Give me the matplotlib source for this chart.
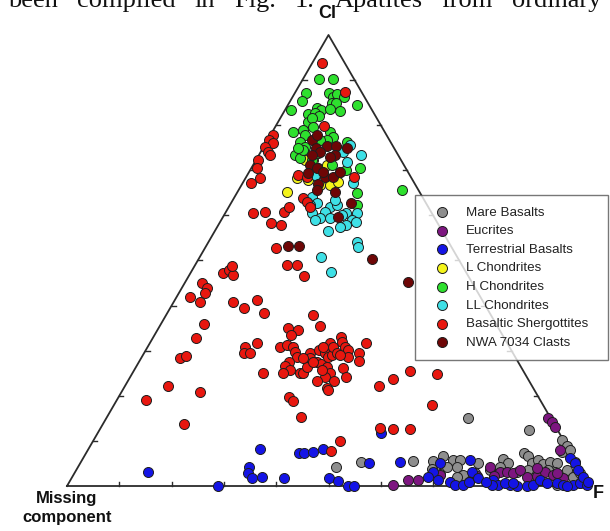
import numpy as np
import matplotlib.pyplot as plt

plt.rcParams['font.family'] = ['Liberation Sans', 'DejaVu Sans']

# apatite compositions: (Cl %, F %), missing component = 100 - Cl - F
mare_basalts = [(4.2, 49.3), (5.3, 53.6), (15.1, 69.1), (12.4, 82.1), (5.5, 63.4), (5.5, 67.2),
                (6.7, 68.6), (5.8, 70.9), (5.8, 72.2), (4.2, 72.5), (4.2, 70.6), (5.1, 76.0),
                (2.9, 76.6), (6.0, 80.4), (5.1, 81.8), (7.3, 83.7), (6.7, 84.8), (5.1, 86.4),
                (5.8, 87.2), (4.9, 88.6), (5.3, 89.7), (5.1, 91.2), (10.2, 89.5), (8.9, 91.2),
                (7.5, 90.9), (8.0, 92.2), (3.5, 93.8), (3.1, 91.8), (3.5, 86.4), (3.1, 84.5),
                (2.0, 88.5), (3.5, 90.2), (2.0, 95.7), (0.2, 93.6), (2.9, 96.6), (4.2, 80.7),
                (2.4, 74.5), (2.0, 73.6), (3.8, 67.9), (0.9, 76.4), (2.7, 70.0), (3.5, 79.1),
                (5.3, 94.4)]

eucrites = [(15.1, 84.4), (14.2, 85.6), (13.1, 86.7), (8.0, 90.3), (4.2, 78.8), (3.1, 81.2),
            (3.1, 82.6), (2.9, 83.8), (2.0, 87.0), (2.2, 88.8), (3.1, 89.8), (2.4, 91.7),
            (2.4, 70.1), (1.3, 64.5), (1.3, 66.4), (0.2, 62.2), (2.2, 77.3), (0.7, 97.7),
            (1.8, 93.9), (4.0, 87.9), (2.9, 92.2), (3.5, 84.8), (2.2, 80.5)]

terrestrial_basalts = [(3.1, 13.9), (8.2, 32.8), (4.2, 32.7), (2.9, 33.2), (1.8, 34.5), (2.0, 36.3),
                       (1.8, 40.6), (0.0, 28.9), (7.3, 40.7), (7.3, 41.7), (7.5, 43.3), (8.2, 44.8),
                       (1.8, 49.2), (1.1, 51.3), (0.0, 53.7), (0.0, 54.9), (5.1, 55.2), (11.8, 54.1),
                       (5.3, 61.1), (5.1, 68.8), (5.8, 74.2), (3.1, 75.9), (3.1, 68.5), (2.0, 68.0),
                       (1.3, 70.3), (0.9, 72.8), (0.2, 74.1), (0.2, 75.6), (0.9, 76.4), (1.3, 80.8),
                       (0.2, 82.3), (0.2, 84.6), (0.0, 86.0), (0.0, 88.0), (0.2, 89.0), (1.3, 89.8),
                       (0.7, 93.3), (0.2, 94.7), (0.2, 96.6), (0.7, 97.7), (0.2, 99.3), (6.2, 93.1),
                       (5.1, 94.6), (3.5, 96.0), (2.0, 97.7), (0.7, 91.5), (0.2, 81.2), (0.7, 83.4),
                       (0.0, 95.6), (0.8, 99.2), (0.7, 84.9), (1.8, 77.7), (0.9, 79.7)]

l_chondrites = [(65.2, 9.5), (72.3, 10.9), (70.5, 12.8), (71.2, 14.1), (69.6, 17.4), (67.8, 12.2),
                (66.7, 15.0), (66.7, 16.9), (67.4, 18.1), (68.3, 9.9), (72.3, 9.4)]

h_chondrites = [(90.2, 3.1), (90.2, 5.8), (87.1, 2.1), (87.1, 6.6), (85.4, 2.2), (86.3, 7.7),
                (86.9, 8.2), (86.3, 9.8), (84.9, 8.2), (84.9, 9.0), (84.5, 13.2), (83.4, 1.2),
                (83.8, 5.9), (83.4, 6.9), (83.6, 8.5), (83.1, 10.6), (82.5, 4.8), (82.7, 6.0),
                (82.0, 7.2), (80.7, 5.7), (81.6, 6.0), (79.6, 7.2), (78.5, 4.0), (78.9, 5.6),
                (77.8, 6.6), (78.5, 11.0), (77.4, 12.2), (76.3, 6.4), (75.2, 7.9), (76.7, 11.4),
                (76.3, 15.4), (73.4, 6.9), (72.7, 8.2), (74.5, 7.9), (70.5, 20.8), (65.0, 22.9),
                (62.3, 24.3), (65.6, 31.3), (71.2, 15.1), (74.5, 15.0), (72.3, 10.7), (76.7, 10.0),
                (70.1, 18.2), (74.9, 6.8), (73.8, 11.1)]

ll_chondrites = [(75.6, 16.3), (73.4, 19.5), (74.1, 15.7), (71.8, 17.6), (69.0, 12.9), (67.2, 21.1),
                 (64.1, 14.8), (62.7, 16.5), (61.9, 19.4), (62.3, 20.5), (60.8, 18.9), (60.5, 23.0),
                 (60.5, 25.2), (59.0, 25.0), (60.5, 16.6), (59.4, 18.7), (59.4, 20.6), (58.5, 26.0),
                 (56.5, 21.7), (54.1, 28.4), (53.0, 29.1), (50.8, 23.2), (47.5, 26.8), (60.1, 22.6),
                 (59.0, 17.9), (57.9, 24.3), (57.4, 23.5), (63.4, 19.5), (62.3, 15.3)]

basaltic_shergottites = [
    (93.8, 1.9), (87.4, 9.5), (79.8, 9.2), (77.8, 0.5), (76.7, 0.3), (76.1, 1.3), (75.2, 0.3),
    (74.1, 1.4), (73.4, 2.1), (72.3, 0.3), (70.5, 1.1), (68.3, 2.8), (67.2, 1.6), (69.0, 9.7),
    (68.5, 11.6), (68.5, 20.6), (63.9, 13.2), (63.0, 14.4), (61.9, 15.5), (60.5, 5.3), (60.8, 7.5),
    (58.3, 9.9), (57.9, 12.0), (60.8, 11.1), (61.9, 11.5), (52.8, 13.6), (49.0, 17.6), (49.0, 19.5),
    (46.6, 22.0), (47.2, 6.2), (47.9, 7.0), (46.8, 8.3), (48.8, 7.1), (45.0, 3.3), (43.9, 4.8),
    (42.8, 5.0), (41.9, 2.6), (40.8, 5.0), (40.8, 11.3), (39.5, 14.1), (41.2, 15.7), (38.4, 18.5),
    (35.9, 8.2), (32.8, 8.3), (28.4, 7.4), (28.8, 8.4), (22.2, 8.2), (19.1, 5.6), (20.8, 15.0),
    (13.7, 15.5), (31.7, 20.5), (30.8, 18.6), (29.5, 19.1), (29.5, 20.3), (25.1, 24.9),
    (37.9, 28.1), (35.5, 30.6), (35.0, 24.8), (34.6, 26.9), (33.5, 26.1), (30.8, 25.3), (31.3, 26.4),
    (30.8, 27.8), (29.7, 28.8), (28.6, 29.7), (27.5, 28.7), (26.6, 28.4), (25.7, 29.8), (25.1, 28.8),
    (25.1, 32.0), (25.1, 32.6), (26.4, 32.7), (29.5, 31.7), (28.4, 32.3), (28.4, 30.9), (30.2, 33.1),
    (27.5, 34.1), (27.1, 35.0), (29.5, 34.6), (28.6, 35.6), (29.0, 36.2), (31.7, 34.5), (30.8, 35.5),
    (29.5, 36.9), (33.0, 35.9), (31.9, 36.6), (30.8, 37.8), (30.2, 38.6), (28.6, 39.4), (29.5, 41.1),
    (27.7, 42.0), (31.7, 41.3), (26.4, 36.5), (25.1, 37.7), (24.2, 37.2), (23.3, 39.4), (23.3, 36.2),
    (21.7, 38.9), (26.2, 39.7), (24.2, 41.2), (25.7, 35.9), (29.0, 37.7), (30.8, 33.5), (27.5, 33.3),
    (19.7, 32.6), (18.8, 33.8), (15.3, 37.1), (22.2, 48.6), (23.7, 50.5), (25.5, 52.8), (10.0, 47.2),
    (7.8, 46.6), (12.9, 53.4), (12.6, 56.0), (12.6, 59.3), (21.3, 39.2), (24.8, 58.3), (18.0, 60.8)]

nwa_7034_clasts = [(76.7, 8.5), (77.8, 8.9), (74.9, 10.2), (75.4, 12.0), (75.4, 13.7), (73.4, 14.5),
                   (72.9, 13.9), (71.2, 10.9), (70.5, 12.6), (68.5, 15.1), (68.5, 16.7), (67.0, 14.5),
                   (69.6, 17.4), (65.2, 18.6), (62.7, 23.0), (59.6, 22.0), (53.2, 15.7), (53.2, 17.8),
                   (50.3, 33.2), (45.2, 42.6), (74.1, 11.4), (74.9, 16.1), (73.4, 10.1), (69.4, 11.4),
                   (65.6, 15.0), (69.6, 14.1)]

series = [
    ("Mare Basalts", mare_basalts, "#8e8e8e"),
    ("Eucrites", eucrites, "#7d1680"),
    ("Terrestrial Basalts", terrestrial_basalts, "#1414e6"),
    ("L Chondrites", l_chondrites, "#f4f41a"),
    ("H Chondrites", h_chondrites, "#2ee02e"),
    ("LL Chondrites", ll_chondrites, "#3ee0e6"),
    ("Basaltic Shergottites", basaltic_shergottites, "#e8170f"),
    ("NWA 7034 Clasts", nwa_7034_clasts, "#6e0606"),
]

H = np.sqrt(3) / 2 * 100


def to_xy(pts):
    a = np.array(pts, dtype=float)
    cl, f = a[:, 0], a[:, 1]
    return f + cl / 2, cl * np.sqrt(3) / 2


fig = plt.figure(figsize=(6.10, 5.31), dpi=100)
ax = fig.add_axes([0, 0, 1, 1])
ax.set_xlim(-12.81, 103.82)
ax.set_ylim(-8.64, 93.32)
ax.axis('off')

# triangle frame
ax.plot([0, 100, 50, 0], [0, 0, H, 0], color='#2b2b2b', lw=1.3, zorder=2)
tl = 0.8
for i in range(1, 10):
    t = i / 10
    ax.plot([100 * t, 100 * t], [0, tl], color='#2b2b2b', lw=1.0)
    ax.plot([50 * t, 50 * t + tl], [H * t, H * t], color='#2b2b2b', lw=1.0)
    ax.plot([100 - 50 * t, 100 - 50 * t - tl], [H * t, H * t], color='#2b2b2b', lw=1.0)

for name, pts, color in series:
    x, y = to_xy(pts)
    ax.scatter(x, y, s=52, c=color, edgecolors='#1e1e1e', linewidths=0.7,
               label=name, zorder=3, clip_on=False)

leg = ax.legend(loc='upper left',
                bbox_to_anchor=(415 / 610, 1 - 358 / 531, 193 / 610, (358 - 195) / 531),
                mode='expand', borderaxespad=0, fontsize=9.6, frameon=True, fancybox=False,
                edgecolor='#555555', borderpad=0.85, labelspacing=0.47, handletextpad=0.6,
                handlelength=2.4, scatterpoints=1)
leg.get_frame().set_linewidth(1.0)
for t in leg.get_texts():
    t.set_color('#222222')
leg.set_zorder(5)

fig.text(327 / 610, 1 - 14 / 531, "Cl", ha='center', va='center', fontsize=13,
         fontweight='bold', color='#111111')
fig.text(598 / 610, 1 - 494 / 531, "F", ha='center', va='center', fontsize=13,
         fontweight='bold', color='#111111')
fig.text(67 / 610, 1 - 508 / 531, "Missing\ncomponent", ha='center', va='center', fontsize=12,
         fontweight='bold', color='#111111', linespacing=1.3)

# cut-off line of body text at the top of the scan
words = ["been", "compiled", "in", "Fig.", "1.", "Apatites", "from", "ordinary"]
word_x = [8, 77, 194, 234, 295, 335, 441, 512]
for w, wx in zip(words, word_x):
    fig.text(wx / 610, 1 - 7 / 531, w, ha='left', va='baseline', fontsize=19,
             family='Liberation Serif', color='#111111')

fig.savefig('out.png', dpi=100)
